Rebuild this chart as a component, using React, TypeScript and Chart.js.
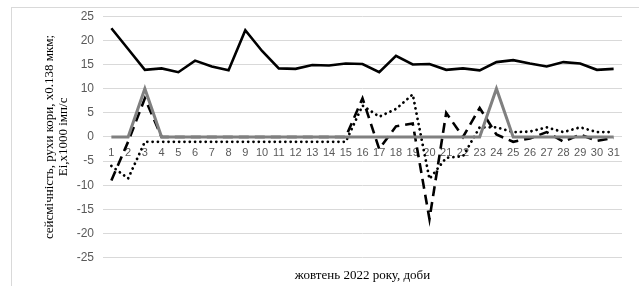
import React, { useEffect, useRef } from 'react';
import { Chart, registerables } from 'chart.js';

Chart.register(...registerables);

const days = ['1', '2', '3', '4', '5', '6', '7', '8', '9', '10', '11', '12', '13', '14', '15', '16', '17', '18', '19', '20', '21', '22', '23', '24', '25', '26', '27', '28', '29', '30', '31'];

const crustMotion = [22.5, 18.2, 13.9, 14.2, 13.4, 15.8, 14.6, 13.8, 22.1, 17.8, 14.2, 14.1, 14.9, 14.8, 15.2, 15.1, 13.4, 16.8, 15.0, 15.1, 13.9, 14.2, 13.8, 15.5, 15.9, 15.2, 14.6, 15.5, 15.2, 13.9, 14.1];

const seismicity = [0, 0, 10, 0, 0, 0, 0, 0, 0, 0, 0, 0, 0, 0, 0, 0, 0, 0, 0, 0, 0, 0, 0, 10, 0, 0, 0, 0, 0, 0, 0];

const eiDotted = [-6, -8.6, -1, -1, -1, -1, -1, -1, -1, -1, -1, -1, -1, -1, -1, 6.5, 4.2, 5.8, 8.8, -8.7, -4.3, -4, 2, 2, 1, 1.1, 2, 1, 2, 1, 1];

const eiDashed = [-9, -1, 8, 0, 0, 0, 0, 0, 0, 0, 0, 0, 0, 0, 0, 8, -2.5, 2.2, 2.8, -17, 5, 0, 6, 0.5, -1, -0.3, 1, -1, 0.5, -0.8, -0.2];

const yTitleLines = ['сейсмічність, рухи кори, x0.138 мкм;', 'Ei,x1000 імп/с'];
const xTitle = 'жовтень 2022 року, доби';

export default function App() {
  const canvasRef = useRef<HTMLCanvasElement | null>(null);

  useEffect(() => {
    if (!canvasRef.current) return;
    const chart = new Chart(canvasRef.current, {
      type: 'line',
      data: {
        labels: days,
        datasets: [
          {
            label: 'seismicity',
            data: seismicity,
            borderColor: '#808080',
            borderWidth: 3,
            pointRadius: 0,
            tension: 0,
            order: 1,
          },
          {
            label: 'crust',
            data: crustMotion,
            borderColor: '#000000',
            borderWidth: 2.6,
            pointRadius: 0,
            tension: 0,
            order: 2,
          },
          {
            label: 'dotted',
            data: eiDotted,
            borderColor: '#000000',
            borderWidth: 2.8,
            borderDash: [0.01, 5.3],
            borderCapStyle: 'round',
            pointRadius: 0,
            tension: 0,
            order: 3,
          },
          {
            label: 'dashed',
            data: eiDashed,
            borderColor: '#000000',
            borderWidth: 2.6,
            borderDash: [10, 6],
            pointRadius: 0,
            tension: 0,
            order: 4,
          },
        ],
      },
      options: {
        animation: false,
        responsive: false,
        layout: { padding: { left: 0, right: 17, top: 15, bottom: 2.5 } },
        plugins: {
          legend: { display: false },
          tooltip: { enabled: false },
          title: {
            display: true,
            fullSize: false,
            text: xTitle,
            position: 'bottom',
            color: '#000000',
            font: { family: 'Liberation Serif', size: 13, weight: 'normal', lineHeight: 1.2 },
            padding: { top: 10.2, bottom: 0 },
          },
        },
        scales: {
          x: {
            position: { y: 0 },
            offset: true,
            grid: { display: false, drawTicks: false, offset: true },
            border: { display: false },
            ticks: {
              autoSkip: false,
              maxRotation: 0,
              padding: 9,
              color: '#595959',
              font: { family: 'Liberation Sans', size: 11 },
            },
          },
          y: {
            min: -25,
            max: 25,
            afterFit: (scale: any) => {
              scale.width = 103;
            },
            grid: { color: '#d9d9d9', lineWidth: 1, drawTicks: false },
            border: { display: false },
            ticks: {
              stepSize: 5,
              padding: 9,
              color: '#595959',
              font: { family: 'Liberation Sans', size: 12 },
            },
            title: {
              display: true,
              text: yTitleLines,
              color: '#000000',
              font: { family: 'Liberation Serif', size: 13, weight: 'normal', lineHeight: 1.05 },
              padding: { top: 43, bottom: 0 },
            },
          },
        },
      },
    });
    return () => chart.destroy();
  }, []);

  return (
    <div style={{ position: 'fixed', left: 0, top: 0, width: 639, height: 286, overflow: 'hidden', background: '#ffffff' }}>
      <div style={{ position: 'absolute', left: 11, top: 7, width: 700, height: 400, border: '1px solid #d9d9d9' }} />
      <canvas ref={canvasRef} width={639} height={286} style={{ position: 'absolute', left: 0, top: 0, display: 'block' }} />
    </div>
  );
}
